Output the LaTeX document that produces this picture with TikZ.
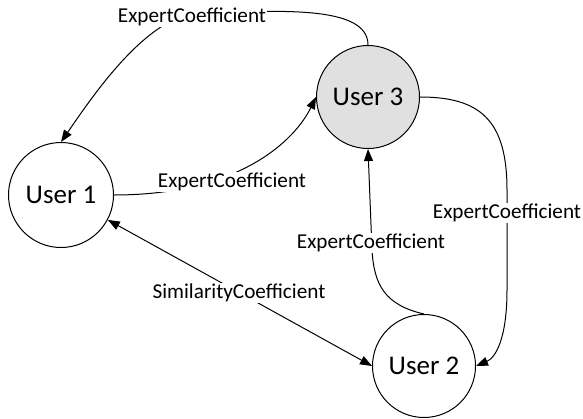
\documentclass[tikz,border=0pt]{standalone}
\usepackage{fontspec}
\setmainfont{Carlito}
\usetikzlibrary{arrows.meta}
\begin{document}
\begin{tikzpicture}[x=1pt,y=-1pt,
  user/.style={circle,draw,line width=1pt,minimum size=103pt,inner sep=0pt,font=\fontsize{27}{32}\selectfont},
  lab/.style={fill=white,inner sep=1pt,font=\fontsize{21.2}{25}\selectfont},
  edge/.style={line width=1pt,-{Triangle[length=12pt,width=9pt]}},
  bedge/.style={line width=1pt,{Triangle[length=12pt,width=9pt]}-{Triangle[length=12pt,width=9pt]}}]
\useasboundingbox (0,0) rectangle (583,418);
\node[user,minimum size=105pt] (u1) at (61,195) {User 1};
\node[user,fill={rgb,255:red,224;green,224;blue,224}] (u3) at (368,97) {User 3};
\node[user] (u2) at (424,366) {User 2};
\coordinate (c1) at (190,14);
\coordinate (c3a) at (507,190);
\coordinate (c3b) at (507,290);
\coordinate (c4) at (372,250);
\draw[edge] (u3.north) .. controls (368,5) and (280,10) .. (c1) .. controls (140,25) and (90,100) .. (u1.north);
\draw[edge] (u1.east) .. controls (240,195) and (295,140) .. (u3.west);
\draw[edge] (u3.east) .. controls (480,97) and (507,120) .. (c3a) -- (c3b) .. controls (507,340) and (495,358) .. (u2.east);
\draw[edge] (u2.north) .. controls (385,305) and (374,285) .. (c4) -- (u3.south);
\draw[bedge] (u1.-28) -- (u2.west);
\node[lab] (lab1) at (192,17) {ExpertCoefficient};
\node[lab] (lab2) at (232,182) {ExpertCoefficient};
\node[lab] (lab3) at (507,213) {ExpertCoefficient};
\node[lab] (lab4) at (371,243) {ExpertCoefficient};
\node[lab] (lab5) at (239,293) {SimilarityCoefficient};
\end{tikzpicture}
\end{document}
